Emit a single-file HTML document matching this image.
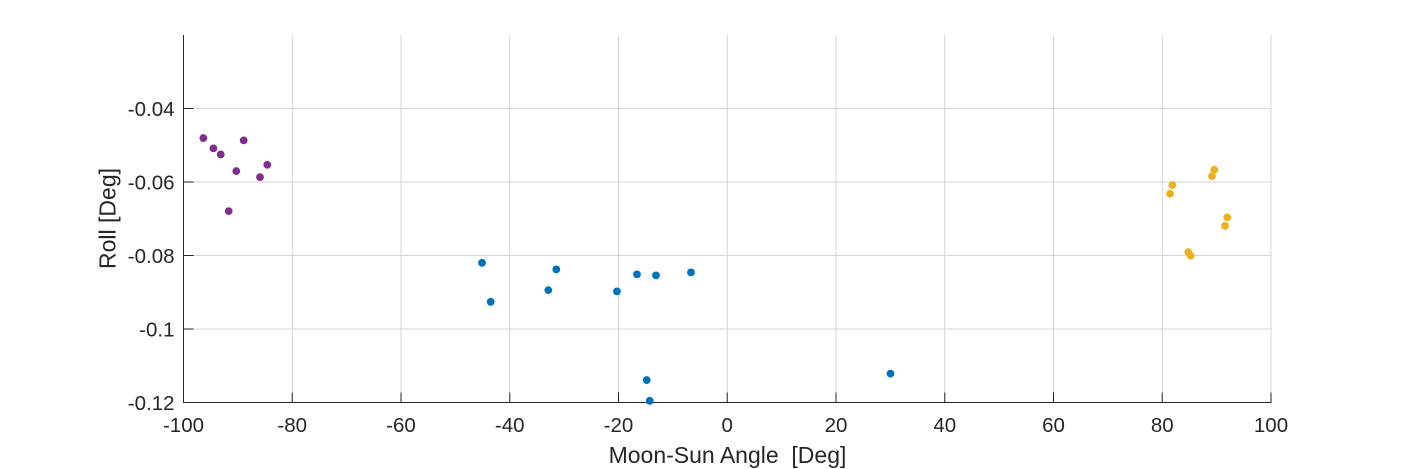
<!DOCTYPE html>
<html lang="en">
<head>
<meta charset="utf-8">
<title>Roll vs Moon-Sun Angle</title>
<style>
  html, body { margin: 0; padding: 0; background: #fff; }
  body { width: 1406px; height: 469px; overflow: hidden; }
  svg { display: block; }
  text { font-family: "Liberation Sans", Arial, sans-serif; fill: #262626; }
</style>
</head>
<body>
<svg id="chart" xmlns="http://www.w3.org/2000/svg" width="1406" height="469" viewBox="0 0 1406 469"></svg>
<script>
const xTicks = [-100, -80, -60, -40, -20, 0, 20, 40, 60, 80, 100];
const yTicks = [-0.04, -0.06, -0.08, -0.1, -0.12];
const yTickLabels = ["-0.04", "-0.06", "-0.08", "-0.1", "-0.12"];
const xAxisLabel = "Moon-Sun Angle  [Deg]";
const yAxisLabel = "Roll [Deg]";

const purpleX = [-96.35, -94.5, -93.16, -88.93, -84.59, -90.29, -85.93, -91.69];
const purpleY = [-0.04805, -0.05086, -0.0525, -0.04868, -0.05532, -0.05703, -0.05867, -0.06792];

const blueX = [-45.1, -43.5, -31.44, -32.91, -20.28, -16.6, -13.1, -6.67, -14.81, -14.26, 30.02];
const blueY = [-0.08199, -0.0926, -0.08378, -0.08942, -0.08977, -0.08514, -0.08541, -0.0846, -0.1139, -0.11954, -0.11214];

const yellowX = [89.57, 89.15, 81.85, 81.43, 91.96, 91.54, 84.79, 85.23];
const yellowY = [-0.05668, -0.0584, -0.06084, -0.06321, -0.06963, -0.07192, -0.07907, -0.08008];

const xDomain = [-100, 100];
const yDomain = [-0.12, -0.02];
const plot = { left: 183.5, right: 1271, top: 35, bottom: 402.5 };

const svg = document.getElementById('chart');
const NS = 'http://www.w3.org/2000/svg';

function sx(v) {
  return plot.left + (v - xDomain[0]) / (xDomain[1] - xDomain[0]) * (plot.right - plot.left);
}
function sy(v) {
  return plot.bottom - (v - yDomain[0]) / (yDomain[1] - yDomain[0]) * (plot.bottom - plot.top);
}
function make(tag, attrs) {
  const el = document.createElementNS(NS, tag);
  for (const k in attrs) el.setAttribute(k, attrs[k]);
  svg.appendChild(el);
  return el;
}

// Grid lines
xTicks.forEach(function (t) {
  if (t === xDomain[0]) return;
  const el = make('line', { x1: sx(t), x2: sx(t), y1: plot.top, y2: plot.bottom, stroke: '#d6d6d6', 'stroke-width': 1 });
  
  
});
yTicks.forEach(function (t) {
  if (t === yDomain[0]) return;
  const el = make('line', { x1: plot.left, x2: plot.right, y1: sy(t), y2: sy(t), stroke: '#d6d6d6', 'stroke-width': 1 });
  
  
});

// Axes
const xAxisLine = make('line', { x1: plot.left - 0.5, x2: plot.right + 0.5, y1: plot.bottom, y2: plot.bottom, stroke: '#262626', 'stroke-width': 1 });


const yAxisLine = make('line', { x1: plot.left, x2: plot.left, y1: plot.top, y2: plot.bottom, stroke: '#262626', 'stroke-width': 1 });



// Ticks and tick labels
xTicks.forEach(function (t) {
  const tick = make('line', { x1: sx(t), x2: sx(t), y1: plot.bottom, y2: plot.bottom - 10, stroke: '#262626', 'stroke-width': 1 });
  
  
  const label = make('text', { x: sx(t), y: 432, 'text-anchor': 'middle', 'font-size': 20.5 });
  label.textContent = String(t);
  
  
});
yTicks.forEach(function (t, i) {
  const tick = make('line', { x1: plot.left, x2: plot.left + 10, y1: sy(t), y2: sy(t), stroke: '#262626', 'stroke-width': 1 });
  
  
  const label = make('text', { x: 174.5, y: sy(t) + 7.5, 'text-anchor': 'end', 'font-size': 20.5 });
  label.textContent = yTickLabels[i];
  
  
});

// Axis titles
const xTitle = make('text', { x: 727.5, y: 463, 'text-anchor': 'middle', 'font-size': 23 });
xTitle.setAttribute('xml:space', 'preserve');
xTitle.style.whiteSpace = 'pre';
xTitle.textContent = xAxisLabel;



const yTitle = make('text', { x: 0, y: 0, 'text-anchor': 'middle', 'font-size': 23, transform: 'translate(115.5 218.5) rotate(-90)' });
yTitle.textContent = yAxisLabel;



// Series points
function drawSeries(xs, ys, color) {
  xs.forEach(function (x, i) {
    const point = make('circle', { cx: sx(x), cy: sy(ys[i]), r: 3.9, fill: color });
    
    
  });
}
drawSeries(blueX, blueY, '#0072BD');
drawSeries(yellowX, yellowY, '#EDB120');
drawSeries(purpleX, purpleY, '#7E2F8E');
</script>
</body>
</html>
